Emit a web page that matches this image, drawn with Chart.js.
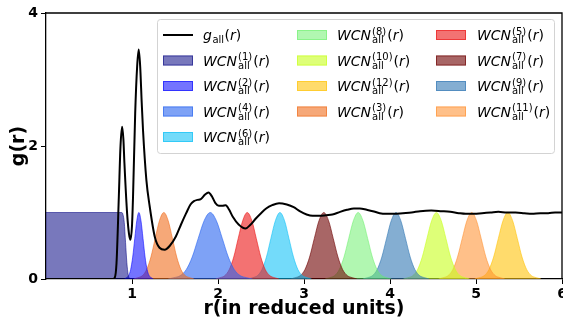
<!DOCTYPE html>
<html>
<head>
<meta charset="utf-8">
<script src="https://cdn.jsdelivr.net/npm/chart.js@4.4.0/dist/chart.umd.min.js"></script>
<style>
  html, body { margin: 0; padding: 0; background: #fff; }
  #wrap { width: 563px; height: 327px; }
</style>
</head>
<body>
<div id="wrap"><canvas id="rdf" width="563" height="327"></canvas></div>
<script>
// g_all(r)
const gR = [0, 0.78, 0.80, 0.82, 0.847, 0.866, 0.885, 0.90, 0.912, 0.943, 0.965, 0.982, 1.00, 1.012, 1.037,
  1.06, 1.078, 1.095, 1.113, 1.128, 1.167, 1.206, 1.264, 1.32, 1.38, 1.44, 1.51, 1.57, 1.63, 1.68, 1.72,
  1.76, 1.80, 1.85, 1.89, 1.93, 1.97, 2.01, 2.05, 2.09, 2.13, 2.17, 2.24, 2.32, 2.38, 2.44, 2.50, 2.56, 2.63,
  2.71, 2.80, 2.88, 2.95, 3.03, 3.10, 3.18, 3.26, 3.33, 3.42, 3.50, 3.58, 3.65, 3.73, 3.80, 3.88, 3.95, 4.05,
  4.15, 4.25, 4.35, 4.48, 4.60, 4.70, 4.80, 4.88, 4.98, 5.07, 5.17, 5.26, 5.36, 5.46, 5.56, 5.65, 5.75, 5.84,
  5.92, 6.0];
const gAll = [0, 0, 0.02, 0.24, 1.24, 1.99, 2.29, 2.1, 1.74, 0.99, 0.68, 0.59, 0.8, 1.24, 2.49,
  3.2, 3.45, 3.2, 2.65, 2.24, 1.49, 1.09, 0.64, 0.47, 0.44, 0.5, 0.64, 0.82, 0.99, 1.12, 1.17,
  1.19, 1.2, 1.27, 1.30, 1.24, 1.14, 1.10, 1.10, 1.11, 1.04, 0.94, 0.82, 0.76, 0.82, 0.91, 0.99, 1.06, 1.11,
  1.14, 1.12, 1.08, 1.02, 0.97, 0.95, 0.95, 0.96, 0.97, 1.01, 1.04, 1.06, 1.06, 1.04, 1.02, 0.99, 0.98, 0.98,
  0.99, 1.00, 1.02, 1.03, 1.02, 1.01, 0.99, 0.98, 0.98, 0.99, 1.00, 1.01, 1.00, 1.00, 0.99, 0.98, 0.99, 0.99,
  1.00, 1.0];

// first shell is a plateau that drops just before r = 1
const wcn1R = [0, 0.88, 0.895, 0.91, 0.925, 0.94, 0.955, 0.97, 0.985];
const wcn1 = [1, 1, 0.97, 0.85, 0.55, 0.25, 0.07, 0.01, 0];

// the other shells are bells of height 1, read at these levels
const bell = [0, 0.02, 0.05, 0.14, 0.33, 0.61, 0.88, 1, 0.88, 0.61, 0.33, 0.14, 0.05, 0.02, 0];
const wcn2R = [0.912, 0.936, 0.96, 0.984, 1.008, 1.032, 1.056, 1.08, 1.104, 1.128, 1.152, 1.176, 1.2, 1.224, 1.248];
const wcn3R = [1.02, 1.07, 1.12, 1.17, 1.22, 1.27, 1.32, 1.37, 1.42, 1.47, 1.52, 1.57, 1.62, 1.67, 1.72];
const wcn4R = [1.42, 1.49, 1.56, 1.63, 1.70, 1.77, 1.84, 1.91, 1.98, 2.05, 2.12, 2.19, 2.26, 2.33, 2.40];
const wcn5R = [1.973, 2.025, 2.078, 2.13, 2.183, 2.235, 2.288, 2.34, 2.393, 2.445, 2.498, 2.55, 2.603, 2.655, 2.708];
const wcn6R = [2.353, 2.405, 2.458, 2.51, 2.563, 2.615, 2.668, 2.72, 2.773, 2.825, 2.878, 2.93, 2.983, 3.035, 3.088];
const wcn7R = [2.845, 2.90, 2.955, 3.01, 3.065, 3.12, 3.175, 3.23, 3.285, 3.34, 3.395, 3.45, 3.505, 3.56, 3.615];
const wcn8R = [3.245, 3.30, 3.355, 3.41, 3.465, 3.52, 3.575, 3.63, 3.685, 3.74, 3.795, 3.85, 3.905, 3.96, 4.015];
const wcn9R = [3.685, 3.74, 3.795, 3.85, 3.905, 3.96, 4.015, 4.07, 4.125, 4.18, 4.235, 4.29, 4.345, 4.40, 4.455];
const wcn10R = [4.155, 4.21, 4.265, 4.32, 4.375, 4.43, 4.485, 4.54, 4.595, 4.65, 4.705, 4.76, 4.815, 4.87, 4.925];
const wcn11R = [4.565, 4.62, 4.675, 4.73, 4.785, 4.84, 4.895, 4.95, 5.005, 5.06, 5.115, 5.17, 5.225, 5.28, 5.335];
const wcn12R = [4.985, 5.04, 5.095, 5.15, 5.205, 5.26, 5.315, 5.37, 5.425, 5.48, 5.535, 5.59, 5.645, 5.70, 5.755];

const shellR = [wcn1R, wcn2R, wcn3R, wcn4R, wcn5R, wcn6R, wcn7R, wcn8R, wcn9R, wcn10R, wcn11R, wcn12R];
const shellColors = [
  "rgba(0, 0, 128, 0.53)",
  "rgba(0, 0, 255, 0.55)",
  "rgba(240, 110, 30, 0.6)",
  "rgba(40, 100, 240, 0.6)",
  "rgba(235, 20, 20, 0.6)",
  "rgba(0, 190, 245, 0.55)",
  "rgba(110, 0, 0, 0.6)",
  "rgba(100, 240, 100, 0.5)",
  "rgba(50, 120, 180, 0.6)",
  "rgba(200, 255, 30, 0.6)",
  "rgba(255, 140, 40, 0.55)",
  "rgba(255, 195, 10, 0.6)",
];
// legend entries, filled column by column (0 = g_all)
const legendOrder = [0, 1, 2, 4, 6, 8, 10, 12, 3, 5, 7, 9, 11];

function pts(xs, ys) {
  return xs.map((x, i) => ({ x: x, y: ys[i] }));
}

const datasets = [
  {
    label: "g_all(r)",
    data: pts(gR, gAll),
    borderColor: "#000",
    borderWidth: 2,
    fill: false,
    pointRadius: 0,
    cubicInterpolationMode: "monotone",
  },
];
shellR.forEach((xs, i) => {
  datasets.push({
    label: "WCN(" + (i + 1) + ")_all(r)",
    shell: String(i + 1),
    data: pts(xs, i === 0 ? wcn1 : bell),
    borderColor: shellColors[i],
    backgroundColor: shellColors[i],
    borderWidth: 1,
    fill: "origin",
    pointRadius: 0,
    cubicInterpolationMode: "monotone",
  });
});

const tickFont = { family: "DejaVu Sans", size: 14, weight: "bold" };
const titleFont = { family: "DejaVu Sans", size: 19, weight: "bold", lineHeight: 1.2 };

const boxAndLegend = {
  id: "boxAndLegend",
  afterDraw(chart) {
    const ctx = chart.ctx;
    const a = chart.chartArea;
    ctx.save();
    ctx.strokeStyle = "#000";
    ctx.lineWidth = 1.3;
    ctx.beginPath();
    ctx.moveTo(a.left, a.top);
    ctx.lineTo(a.right, a.top);
    ctx.lineTo(a.right, a.bottom);
    ctx.stroke();

    // legend frame
    ctx.beginPath();
    ctx.roundRect(157.5, 19.5, 397, 134, 3);
    ctx.fillStyle = "rgba(255,255,255,0.8)";
    ctx.fill();
    ctx.strokeStyle = "#d3d3d3";
    ctx.lineWidth = 1;
    ctx.stroke();

    const handleX = [163, 297, 436];
    const textX = [203, 337, 477];
    const rowY = [35, 60.5, 86, 111.5, 137];
    const cols = [legendOrder.slice(0, 5), legendOrder.slice(5, 9), legendOrder.slice(9)];
    const big = 'italic 14px "DejaVu Sans"';
    const up = '14px "DejaVu Sans"';
    const small = '10px "DejaVu Sans"';
    ctx.fillStyle = "#000";
    ctx.textBaseline = "alphabetic";
    ctx.textAlign = "left";

    cols.forEach((col, c) => {
      col.forEach((idx, r) => {
        const ds = chart.data.datasets[idx];
        const y = rowY[r];
        const base = y + 5;
        let x = textX[c];
        if (idx === 0) {
          ctx.strokeStyle = "#000";
          ctx.lineWidth = 2;
          ctx.beginPath();
          ctx.moveTo(handleX[c], y);
          ctx.lineTo(handleX[c] + 30, y);
          ctx.stroke();
          ctx.fillStyle = "#000";
          ctx.font = big;
          ctx.fillText("g", x, base);
          x += ctx.measureText("g").width + 0.5;
          ctx.font = small;
          ctx.fillText("all", x, base + 3);
          x += ctx.measureText("all").width + 0.5;
        } else {
          ctx.fillStyle = ds.backgroundColor;
          ctx.fillRect(handleX[c], y - 5, 30, 10);
          ctx.strokeStyle = ds.borderColor;
          ctx.lineWidth = 1;
          ctx.strokeRect(handleX[c] + 0.5, y - 4.5, 29, 9);
          ctx.fillStyle = "#000";
          ctx.font = big;
          ctx.fillText("WCN", x, base);
          x += ctx.measureText("WCN").width + 1;
          ctx.font = small;
          const sup = "(" + ds.shell + ")";
          ctx.fillText(sup, x, base - 5.5);
          ctx.fillText("all", x, base + 3);
          x += Math.max(ctx.measureText(sup).width, ctx.measureText("all").width) + 1;
        }
        ctx.font = up;
        ctx.fillText("(", x, base);
        x += ctx.measureText("(").width;
        ctx.font = big;
        ctx.fillText("r", x, base);
        x += ctx.measureText("r").width;
        ctx.font = up;
        ctx.fillText(")", x, base);
      });
    });
    ctx.restore();
  },
};

new Chart(document.getElementById("rdf").getContext("2d"), {
  type: "line",
  data: { datasets: datasets },
  options: {
    responsive: false,
    animation: false,
    devicePixelRatio: 1,
    layout: { padding: { left: 0, right: 1, top: 13, bottom: 0 } },
    plugins: {
      legend: { display: false },
      tooltip: { enabled: false },
    },
    scales: {
      x: {
        type: "linear",
        min: 0,
        max: 6,
        ticks: {
          stepSize: 1,
          color: "#000",
          font: tickFont,
          padding: 2,
          maxRotation: 0,
          callback: (v) => (v === 0 ? "" : v),
        },
        grid: {
          drawOnChartArea: false,
          drawTicks: true,
          tickLength: 5,
          tickWidth: 1,
          tickColor: (c) => (c.tick && c.tick.value === 0 ? "rgba(0,0,0,0)" : "#000"),
        },
        border: { color: "#000", width: 1.3 },
        title: {
          display: true,
          text: "r(in reduced units)",
          color: "#000",
          font: titleFont,
          padding: { top: 0, bottom: 7 },
        },
        afterFit: (s) => {
          s.height = 48;
          s.paddingLeft = 0;
          s.paddingRight = 0;
        },
      },
      y: {
        min: 0,
        max: 4,
        ticks: { stepSize: 2, color: "#000", font: tickFont, padding: 3 },
        grid: {
          drawOnChartArea: false,
          drawTicks: true,
          tickLength: 5,
          tickWidth: 1,
          tickColor: "#000",
        },
        border: { color: "#000", width: 1.3 },
        title: {
          display: true,
          text: "g(r)",
          color: "#000",
          font: titleFont,
          padding: { top: 8, bottom: 0 },
        },
        afterFit: (s) => {
          s.width = 46;
          s.paddingTop = 0;
          s.paddingBottom = 0;
        },
      },
    },
  },
  plugins: [boxAndLegend],
});
</script>
</body>
</html>
